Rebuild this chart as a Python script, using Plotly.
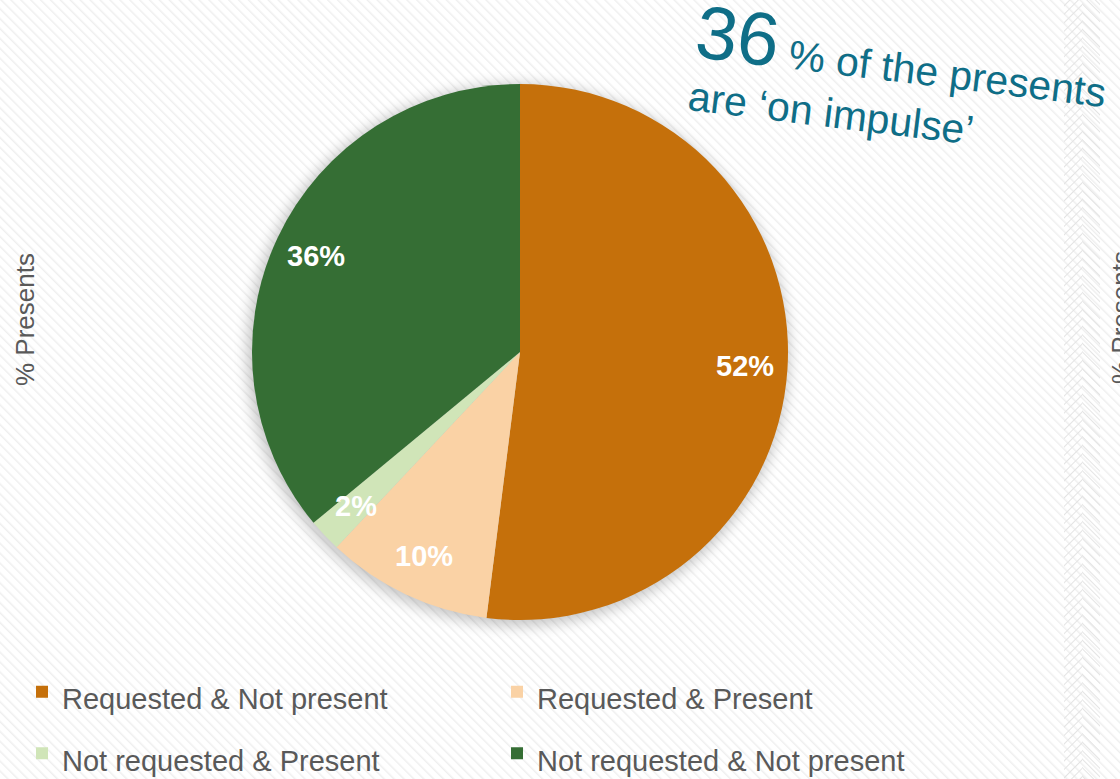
import base64
import math
import plotly.graph_objects as go

# Share of presents by request / presence status (percent)
LABELS = [
    "Requested & Not present",
    "Requested & Present",
    "Not requested & Present",
    "Not requested & Not present",
]
VALUES = [52, 10, 2, 36]
COLORS = ["#C5700B", "#FAD2A5", "#D0E5B8", "#356E34"]

HEADLINE_NUMBER = "36"
HEADLINE_LINE1 = "% of the presents"
HEADLINE_LINE2 = "are \u2018on impulse\u2019"
AXIS_TITLE = "% Presents"

W, H = 1120, 779
PIE_CX, PIE_CY, PIE_R = 520, 352, 268  # pixel geometry of the pie
GREY = "#595959"
TEAL = "#0F6E87"
FONT = "Liberation Sans, Arial, sans-serif"

# Pie domain in paper units
dom_x = [(PIE_CX - PIE_R) / W, (PIE_CX + PIE_R) / W]
dom_y = [(H - PIE_CY - PIE_R) / H, (H - PIE_CY + PIE_R) / H]

# Hatched page background with a soft glow behind the pie
svg = f"""<svg xmlns='http://www.w3.org/2000/svg' width='{W}' height='{H}'>
<defs>
<pattern id='h' width='7' height='7' patternUnits='userSpaceOnUse' patternTransform='rotate(-45)'>
<line x1='0' y1='0' x2='0' y2='7' stroke='#efefef' stroke-width='3'/></pattern>
<pattern id='hb1' width='6' height='6' patternUnits='userSpaceOnUse' patternTransform='rotate(45)'>
<line x1='0' y1='0' x2='0' y2='6' stroke='#e4e4e4' stroke-width='2'/></pattern>
<pattern id='hb2' width='6' height='6' patternUnits='userSpaceOnUse' patternTransform='rotate(-45)'>
<line x1='0' y1='0' x2='0' y2='6' stroke='#e4e4e4' stroke-width='2'/></pattern>
<filter id='b' x='-20%' y='-20%' width='140%' height='140%'><feGaussianBlur stdDeviation='7'/></filter>
</defs>
<rect width='{W}' height='{H}' fill='#ffffff'/>
<rect width='{W}' height='{H}' fill='url(#h)'/>
<rect x='1064' y='0' width='18' height='{H}' fill='url(#hb1)'/>
<rect x='1082' y='0' width='18' height='{H}' fill='url(#hb2)'/>
<circle cx='{PIE_CX - 2}' cy='{PIE_CY + 3}' r='{PIE_R + 3}' fill='#000000' opacity='0.22' filter='url(#b)'/>
</svg>"""
bg_uri = "data:image/svg+xml;base64," + base64.b64encode(svg.encode()).decode()

fig = go.Figure()
fig.add_trace(go.Pie(
    labels=[f'<span style="font-size:29px">{l}</span>' for l in LABELS],
    values=VALUES,
    marker=dict(colors=COLORS, line=dict(width=0)),
    sort=False,
    direction="clockwise",
    rotation=0,
    textinfo="none",
    hovertemplate="%{value}%<extra></extra>",
    domain=dict(x=dom_x, y=dom_y),
))

# Percent labels placed near the outer end of each slice
annotations = []
cum = 0
total = sum(VALUES)
for v in VALUES:
    mid = (cum + v / 2) / total * 2 * math.pi
    cum += v
    r = PIE_R * 0.84
    px = PIE_CX + r * math.sin(mid)
    py = PIE_CY - r * math.cos(mid)
    annotations.append(dict(
        x=px / W, y=1 - py / H, xref="paper", yref="paper",
        text=f"<b>{v}%</b>", showarrow=False,
        font=dict(family=FONT, size=29, color="#ffffff"),
        xanchor="center", yanchor="middle",
    ))

# Headline
annotations.append(dict(
    x=899 / W, y=1 - 79 / H, xref="paper", yref="paper",
    text=f'<span style="font-size:75px">{HEADLINE_NUMBER}</span> {HEADLINE_LINE1}<br>{HEADLINE_LINE2}',
    showarrow=False, textangle=7, align="left",
    font=dict(family=FONT, size=41, color=TEAL),
    xanchor="center", yanchor="middle",
))

# Axis titles
annotations.append(dict(
    x=25 / W, y=1 - 320 / H, xref="paper", yref="paper",
    text=AXIS_TITLE, showarrow=False, textangle=-90,
    font=dict(family=FONT, size=26, color=GREY),
    xanchor="center", yanchor="middle",
))
annotations.append(dict(
    x=1121 / W, y=1 - 318 / H, xref="paper", yref="paper",
    text=AXIS_TITLE, showarrow=False, textangle=-90,
    font=dict(family=FONT, size=26, color=GREY),
    xanchor="center", yanchor="middle",
))

fig.update_layout(
    width=W, height=H,
    margin=dict(l=0, r=0, t=0, b=0, autoexpand=False),
    paper_bgcolor="rgba(0,0,0,0)",
    plot_bgcolor="rgba(0,0,0,0)",
    images=[dict(source=bg_uri, xref="paper", yref="paper", x=0, y=1,
                 sizex=1, sizey=1, sizing="stretch", layer="below",
                 xanchor="left", yanchor="top")],
    showlegend=True,
    legend=dict(
        orientation="h",
        x=22 / W, xanchor="left",
        y=1 - 656 / H, yanchor="top",
        font=dict(family=FONT, size=45, color=GREY),
        entrywidth=430, entrywidthmode="pixels",
        bgcolor="rgba(0,0,0,0)",
        traceorder="normal",
    ),
    annotations=annotations,
)

fig.write_html("out.html")
